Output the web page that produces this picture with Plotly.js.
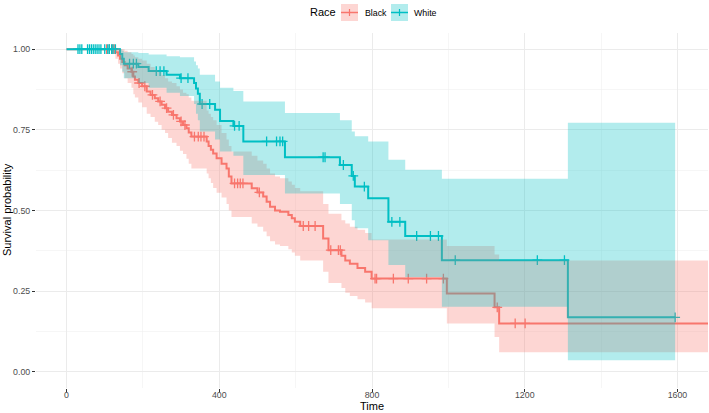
<!DOCTYPE html>
<html>
<head>
<meta charset="utf-8">
<script src="https://cdn.plot.ly/plotly-3.0.1.min.js"></script>
<style>
  html, body { margin: 0; padding: 0; background: #ffffff; }
  #chart { width: 709px; height: 413px; }
</style>
</head>
<body>
<div id="chart"></div>
<script>
// Kaplan-Meier survival estimates by race, with 95% confidence bands.

// Black group: step times, survival, band limits
const blackTime  = [0, 128, 135, 140, 146, 152, 160, 170, 175, 179, 188, 198, 210, 220, 231, 240, 249, 258, 266, 276, 288, 297, 305, 314, 320, 327, 367, 372, 378, 384, 393, 406, 419, 425, 432, 485, 500, 515, 524, 533, 546, 559, 581, 590, 598, 612, 672, 686, 720, 730, 742, 762, 782, 799, 996, 1121, 1133];
const blackSurv  = [1, 0.99, 0.98, 0.97, 0.96, 0.95, 0.94, 0.93, 0.915, 0.905, 0.895, 0.885, 0.869, 0.858, 0.848, 0.838, 0.828, 0.817, 0.806, 0.796, 0.786, 0.776, 0.765, 0.755, 0.742, 0.729, 0.714, 0.70, 0.688, 0.677, 0.662, 0.645, 0.630, 0.605, 0.584, 0.569, 0.556, 0.543, 0.527, 0.512, 0.50, 0.496, 0.486, 0.476, 0.465, 0.452, 0.413, 0.377, 0.36, 0.345, 0.335, 0.322, 0.31, 0.289, 0.243, 0.200, 0.150];
const blackUpper = [1, 1, 1, 1, 1, 0.995, 0.99, 0.985, 0.98, 0.975, 0.97, 0.965, 0.955, 0.945, 0.935, 0.93, 0.92, 0.91, 0.90, 0.895, 0.885, 0.875, 0.865, 0.86, 0.85, 0.84, 0.81, 0.80, 0.79, 0.78, 0.765, 0.74, 0.72, 0.70, 0.683, 0.67, 0.655, 0.645, 0.63, 0.615, 0.605, 0.60, 0.59, 0.58, 0.57, 0.56, 0.52, 0.49, 0.47, 0.46, 0.45, 0.44, 0.43, 0.41, 0.39, 0.364, 0.345];
const blackLower = [1, 0.97, 0.955, 0.94, 0.925, 0.91, 0.895, 0.88, 0.86, 0.85, 0.835, 0.82, 0.80, 0.79, 0.775, 0.765, 0.75, 0.74, 0.725, 0.71, 0.70, 0.685, 0.675, 0.66, 0.645, 0.63, 0.615, 0.60, 0.585, 0.57, 0.555, 0.54, 0.52, 0.50, 0.48, 0.46, 0.45, 0.435, 0.42, 0.405, 0.395, 0.39, 0.38, 0.37, 0.36, 0.345, 0.31, 0.275, 0.26, 0.245, 0.235, 0.225, 0.215, 0.197, 0.15, 0.108, 0.061];
const blackLastTime = 1690;
const blackCensor = [105, 112, 120, 125, 172, 190, 205, 225, 245, 262, 280, 300, 310, 335, 345, 352, 360, 440, 448, 455, 462, 505, 620, 634, 651, 692, 712, 717, 808, 812, 856, 895, 943, 987, 1128, 1175, 1201];

// White group: step times, survival, band limits
const whiteTime  = [0, 140, 146, 150, 188, 215, 262, 297, 334, 339, 344, 349, 389, 402, 437, 463, 572, 716, 747, 755, 790, 843, 887, 983, 1313];
const whiteSurv  = [1, 0.985, 0.97, 0.955, 0.945, 0.932, 0.921, 0.91, 0.895, 0.878, 0.862, 0.83, 0.812, 0.777, 0.762, 0.714, 0.665, 0.641, 0.607, 0.574, 0.538, 0.465, 0.421, 0.346, 0.169];
const whiteUpper = [1, 1, 0.995, 0.99, 0.988, 0.983, 0.978, 0.975, 0.962, 0.95, 0.94, 0.921, 0.90, 0.88, 0.87, 0.838, 0.802, 0.78, 0.745, 0.73, 0.714, 0.657, 0.626, 0.598, 0.772];
const whiteLower = [1, 0.95, 0.93, 0.91, 0.895, 0.88, 0.865, 0.855, 0.83, 0.80, 0.78, 0.745, 0.72, 0.683, 0.67, 0.61, 0.553, 0.52, 0.47, 0.445, 0.408, 0.331, 0.294, 0.202, 0.036];
const whiteLastTime = 1594;
const whiteCensor = [30, 35, 40, 55, 60, 65, 70, 75, 80, 85, 90, 100, 108, 112, 118, 122, 128, 165, 175, 183, 235, 245, 255, 300, 318, 355, 375, 440, 452, 524, 550, 559, 566, 672, 677, 725, 751, 780, 852, 873, 917, 953, 974, 1018, 1233, 1304, 1594];

// Axis ticks and labels
const xTicks = [0, 400, 800, 1200, 1600];
const xMinor = [200, 600, 1000, 1400];
const yTicks = [0, 0.25, 0.5, 0.75, 1];
const yTickText = ['0.00', '0.25', '0.50', '0.75', '1.00'];
const yMinor = [0.125, 0.375, 0.625, 0.875];
const groups = ['Black', 'White'];

const RED = '#F8766D', TEAL = '#00BFC4';
const RED_FILL = 'rgba(248,118,109,0.3)', TEAL_FILL = 'rgba(0,191,196,0.3)';

// extend a step series to the last follow-up time
function stepX(t, last) { return t.concat([last]); }
function stepY(v) { return v.concat([v[v.length - 1]]); }
// survival value in effect at time t
function survAt(times, surv, t) {
  let v = surv[0];
  for (let i = 0; i < times.length; i++) { if (times[i] <= t) v = surv[i]; }
  return v;
}

function curve(times, surv, last, color) {
  return { x: stepX(times, last), y: stepY(surv), type: 'scatter', mode: 'lines',
    line: { color: color, width: 2, shape: 'hv' }, showlegend: false, hoverinfo: 'skip' };
}
function censor(times, surv, cens, color) {
  return { x: cens, y: cens.map(t => survAt(times, surv, t)), type: 'scatter', mode: 'markers',
    marker: { symbol: 'cross-thin', size: 7, line: { color: color, width: 1.3 } },
    showlegend: false, hoverinfo: 'skip' };
}
function band(times, vals, last, fill, toNext) {
  return { x: stepX(times, last), y: stepY(vals), type: 'scatter', mode: 'lines',
    line: { width: 0, shape: 'hv' }, fill: toNext ? 'tonexty' : 'none', fillcolor: fill,
    showlegend: false, hoverinfo: 'skip' };
}

const data = [
  curve(blackTime, blackSurv, blackLastTime, RED),
  curve(whiteTime, whiteSurv, whiteLastTime, TEAL),
  censor(blackTime, blackSurv, blackCensor, RED),
  censor(whiteTime, whiteSurv, whiteCensor, TEAL),
  band(blackTime, blackUpper, blackLastTime, RED_FILL, false),
  band(blackTime, blackLower, blackLastTime, RED_FILL, true),
  band(whiteTime, whiteUpper, whiteLastTime, TEAL_FILL, false),
  band(whiteTime, whiteLower, whiteLastTime, TEAL_FILL, true)
];

// page geometry helpers (pixel -> paper)
const W = 709, H = 413, M = { l: 36, r: 1, t: 33, b: 25 };
const px = x => (x - M.l) / (W - M.l - M.r);
const py = y => (H - M.b - y) / (H - M.t - M.b);

const FONT = 'Liberation Sans, Arial, Helvetica, sans-serif';
const axisCommon = {
  ticks: 'outside', ticklen: 3, tickwidth: 1, tickcolor: '#333333',
  showgrid: true, gridcolor: '#ebebeb', gridwidth: 1,
  zeroline: false, showline: false,
  tickfont: { family: FONT, size: 8.8, color: '#4d4d4d' },
  fixedrange: true
};

const legendKeys = [
  { x0: 341, x1: 358, color: RED, fill: RED_FILL, label: groups[0], tx: 363 },
  { x0: 391, x1: 408, color: TEAL, fill: TEAL_FILL, label: groups[1], tx: 412 }
];
const shapes = [];
const annotations = [
  { text: 'Time', x: px(372), y: py(406), xref: 'paper', yref: 'paper', showarrow: false,
    xanchor: 'center', yanchor: 'middle', font: { family: FONT, size: 11, color: '#000' } },
  { text: 'Survival probability', x: px(7), y: py(210), xref: 'paper', yref: 'paper', showarrow: false,
    textangle: -90, xanchor: 'center', yanchor: 'middle', font: { family: FONT, size: 11, color: '#000' } },
  { text: 'Race', x: px(308), y: py(12), xref: 'paper', yref: 'paper', showarrow: false,
    xanchor: 'left', yanchor: 'middle', font: { family: FONT, size: 11, color: '#000' } }
];
legendKeys.forEach(k => {
  shapes.push({ type: 'rect', xref: 'paper', yref: 'paper', x0: px(k.x0), x1: px(k.x1), y0: py(21), y1: py(4),
    fillcolor: k.fill, line: { width: 0 } });
  shapes.push({ type: 'line', xref: 'paper', yref: 'paper', x0: px(k.x0), x1: px(k.x1), y0: py(12.5), y1: py(12.5),
    line: { color: k.color, width: 1.5 } });
  shapes.push({ type: 'line', xref: 'paper', yref: 'paper', x0: px((k.x0 + k.x1) / 2), x1: px((k.x0 + k.x1) / 2),
    y0: py(9), y1: py(16), line: { color: k.color, width: 1.2 } });
  annotations.push({ text: k.label, x: px(k.tx), y: py(12.5), xref: 'paper', yref: 'paper', showarrow: false,
    xanchor: 'left', yanchor: 'middle', font: { family: FONT, size: 8.8, color: '#000' } });
});

const layout = {
  width: W, height: H,
  margin: M,
  paper_bgcolor: '#ffffff', plot_bgcolor: '#ffffff',
  showlegend: false,
  font: { family: FONT },
  xaxis: Object.assign({}, axisCommon, {
    range: [-80, 1680], tickvals: xTicks, ticktext: xTicks.map(String),
    ticklabelstandoff: -5,
    minor: { tickvals: xMinor, showgrid: true, gridcolor: '#f0f0f0', gridwidth: 0.6, ticks: '' }
  }),
  yaxis: Object.assign({}, axisCommon, {
    range: [-0.05, 1.05], tickvals: yTicks, ticktext: yTickText,
    minor: { tickvals: yMinor, showgrid: true, gridcolor: '#f0f0f0', gridwidth: 0.6, ticks: '' }
  }),
  shapes: shapes,
  annotations: annotations
};

Plotly.newPlot('chart', data, layout, { staticPlot: true, displayModeBar: false });
</script>
</body>
</html>
